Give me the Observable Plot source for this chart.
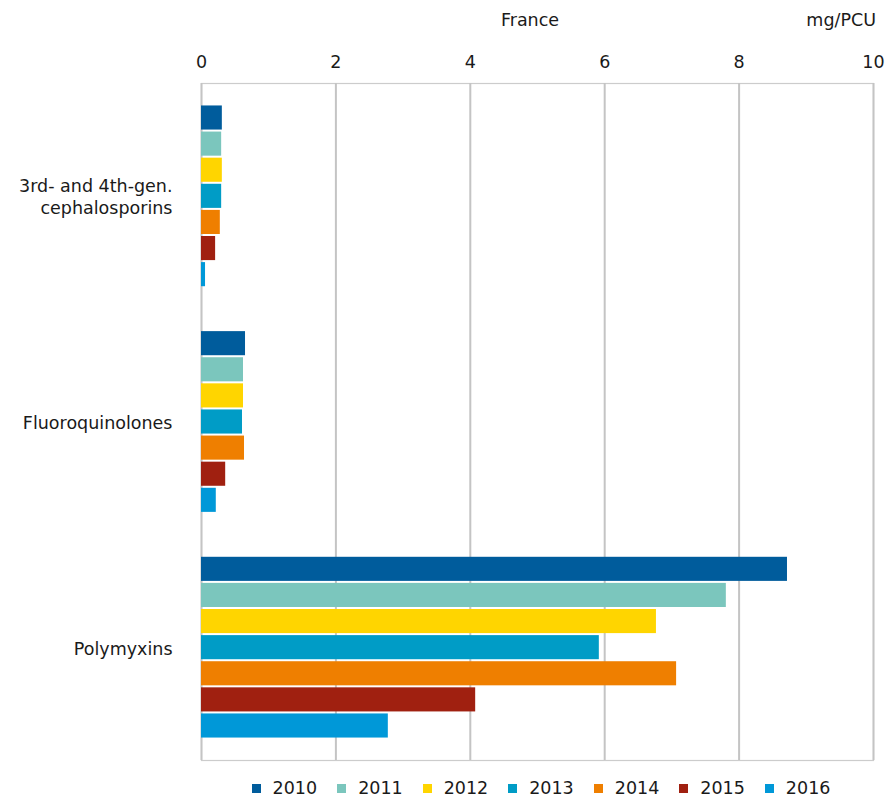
<!DOCTYPE html>
<html><head><meta charset="utf-8">
<script src="https://cdn.jsdelivr.net/npm/d3@7"></script>
<script src="https://cdn.jsdelivr.net/npm/@observablehq/plot@0.6"></script>
<style>
body{margin:0;background:#fff;font-family:"DejaVu Sans",Verdana,sans-serif;color:#1a1a1a;}
#wrap{position:relative;width:891px;height:798px;overflow:hidden;}
#wrap svg{position:absolute;left:0;top:0;}
.ttl{position:absolute;top:10px;font-size:17.5px;line-height:20px;white-space:nowrap;}
#legend{position:absolute;top:778px;left:201px;width:680px;display:flex;justify-content:center;gap:20px;font-size:17.5px;line-height:20px;}
#legend .item{display:flex;align-items:center;}
#legend .sw{width:9px;height:9px;margin-right:12px;}
</style></head><body>
<div id="wrap"></div>
<script>
const categories = ["3rd- and 4th-gen. cephalosporins", "Fluoroquinolones", "Polymyxins"];
const categoryLabels = ["3rd- and 4th-gen.\ncephalosporins", "Fluoroquinolones", "Polymyxins"];
const years = ["2010", "2011", "2012", "2013", "2014", "2015", "2016"];
const colors = ["#005c9c", "#7bc6bd", "#ffd500", "#009cc6", "#ef7f00", "#a02010", "#0098d8"];
const cephalosporins = [0.31, 0.30, 0.31, 0.30, 0.28, 0.21, 0.06];
const fluoroquinolones = [0.655, 0.625, 0.625, 0.61, 0.64, 0.36, 0.22];
const polymyxins = [8.72, 7.81, 6.77, 5.92, 7.07, 4.08, 2.78];
const xTicks = [0, 2, 4, 6, 8, 10];
const title = "France";
const unit = "mg/PCU";

const series = [cephalosporins, fluoroquinolones, polymyxins];
const rows = categories.flatMap((c, i) => years.map((y, j) => ({
  category: c, label: categoryLabels[i], year: y, value: series[i][j]
})));

const W = 891, H = 770, ML = 201, MR = 18, MT = 83, MB = 10;
const wrap = document.getElementById("wrap");

// background: frame and gridlines, continuous over the whole plot area
const bg = Plot.plot({
  width: W, height: H, marginLeft: ML, marginRight: MR, marginTop: MT, marginBottom: MB,
  style: {background: "transparent"},
  x: {domain: [0, 10], axis: null},
  marks: [
    Plot.frame({stroke: "#cccccc", strokeWidth: 1.2}),
    Plot.ruleX(xTicks, {stroke: "#c4c4c4", strokeWidth: 2})
  ]
});
wrap.appendChild(bg);

const main = Plot.plot({
  width: W, height: H, marginLeft: ML, marginRight: MR, marginTop: MT, marginBottom: MB,
  style: {background: "transparent", fontFamily: "DejaVu Sans, Verdana, sans-serif", fontSize: "17.5px", color: "#1a1a1a"},
  x: {domain: [0, 10], ticks: xTicks, axis: "top", tickSize: 0, tickPadding: 16, label: null, tickFormat: d => String(d)},
  y: {domain: years, axis: null, paddingInner: 0.077, paddingOuter: 0.86, round: false},
  fy: {domain: categories, axis: null, padding: 0, round: false},
  color: {domain: years, range: colors},
  facet: {data: rows, y: "category"},
  marks: [
    Plot.barX(rows, {x: "value", y: "year", fill: "year"}),
    Plot.text(rows, {filter: d => d.year === "2013", x: 0, y: "year", text: "label",
      textAnchor: "end", dx: -29, fontSize: 17.5, lineHeight: 1.26, fill: "#1a1a1a"})
  ]
});
wrap.appendChild(main);

const t1 = document.createElement("div");
t1.className = "ttl"; t1.textContent = title;
t1.style.left = "530px"; t1.style.transform = "translateX(-50%)";
wrap.appendChild(t1);
const t2 = document.createElement("div");
t2.className = "ttl"; t2.textContent = unit;
t2.style.right = "15px";
wrap.appendChild(t2);

const legend = document.createElement("div");
legend.id = "legend";
years.forEach((y, i) => {
  const it = document.createElement("div"); it.className = "item";
  const sw = document.createElement("div"); sw.className = "sw"; sw.style.background = colors[i];
  const tx = document.createElement("span"); tx.textContent = y;
  it.appendChild(sw); it.appendChild(tx); legend.appendChild(it);
});
wrap.appendChild(legend);
</script>
</body></html>
